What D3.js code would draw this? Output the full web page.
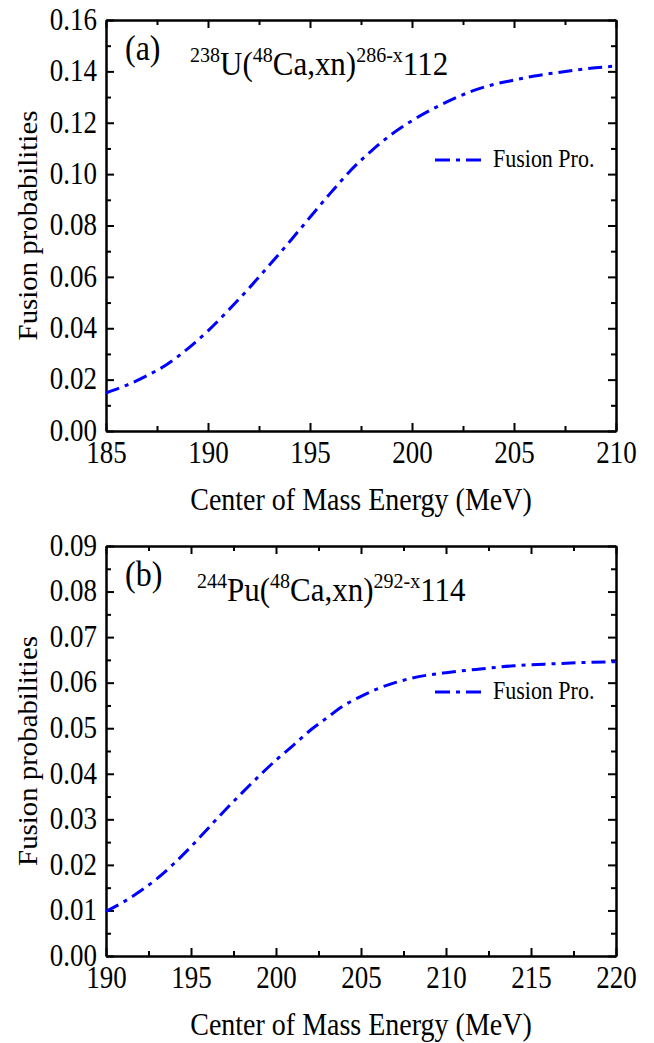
<!doctype html>
<html>
<head>
<meta charset="utf-8" />
<script src="https://cdn.jsdelivr.net/npm/d3@7"></script>
<style>
  body{margin:0;padding:0;background:#fff;}
  text{font-family:"Liberation Serif","Times New Roman",serif;fill:#000;}
</style>
</head>
<body>
<script>

// panel (a): 238U(48Ca,xn)286-x112
var energyA = [185,186,187,188,189,190,191,192,193,194,195,196,197,198,199,200,201,202,203,204,205,206,207,208,209,210];
var probA   = [0.0148,0.0178,0.0215,0.0260,0.0320,0.0390,0.0470,0.0555,0.0645,0.0737,0.0832,0.0926,0.1015,0.1090,0.1155,0.1208,0.1253,0.1292,0.1325,0.1349,0.1366,0.1382,0.1394,0.1405,0.1414,0.1421];

// panel (b): 244Pu(48Ca,xn)292-x114
var energyB = [190,191,192,193,194,195,196,197,198,199,200,201,202,203,204,205,206,207,208,209,210,212,214,216,218,220];
var probB   = [0.0098,0.0118,0.0142,0.0170,0.0203,0.0240,0.0280,0.0320,0.0358,0.0395,0.0430,0.0462,0.0495,0.0523,0.0550,0.0570,0.0587,0.0600,0.0610,0.0617,0.0622,0.0630,0.0637,0.0641,0.0644,0.0646];

var xTicksA = [185,190,195,200,205,210];
var yTicksA = [0,0.02,0.04,0.06,0.08,0.10,0.12,0.14,0.16];
var xTicksB = [190,195,200,205,210,215,220];
var yTicksB = [0,0.01,0.02,0.03,0.04,0.05,0.06,0.07,0.08,0.09];

var W = 654, H = 1043;
var left = 106, right = 616;
var SERIF = '"Liberation Serif","Times New Roman",serif';
var K = 1.15; // the original glyphs are a bit taller than wide
var svg = d3.select("body").append("svg").attr("width",W).attr("height",H);

// text placed with a small vertical stretch
function addText(g, x, y, size, k, txt){
  return g.append("text").attr("transform","translate("+x+","+y+") scale(1,"+k+")")
    .style("font-family",SERIF).attr("font-size",size+"px").text(txt);
}

function panel(cfg){
  var top = cfg.top, bottom = cfg.bottom;
  var x = d3.scaleLinear().domain(cfg.xDom).range([left,right]);
  var y = d3.scaleLinear().domain(cfg.yDom).range([bottom,top]);
  var g = svg.append("g");

  // minor tick positions (halfway between majors)
  var xMinor = [], yMinor = [];
  for(var i=0;i<cfg.xTicks.length-1;i++) xMinor.push((cfg.xTicks[i]+cfg.xTicks[i+1])/2);
  for(var j=0;j<cfg.yTicks.length-1;j++) yMinor.push((cfg.yTicks[j]+cfg.yTicks[j+1])/2);

  function styleAxis(sel){
    sel.select(".domain").attr("stroke","#000").attr("stroke-width",2);
    sel.selectAll(".tick line").attr("stroke","#000").attr("stroke-width",2);
    sel.selectAll(".tick text").attr("font-size","27px").style("font-family",SERIF).attr("fill","#000");
  }

  // bottom
  var bx = g.append("g").attr("transform","translate(0,"+bottom+")")
    .call(d3.axisBottom(x).tickValues(cfg.xTicks).tickSize(-8).tickSizeOuter(0).tickFormat(d3.format("d")))
    .call(styleAxis);
  bx.selectAll(".tick text").attr("y",32/K).attr("dy",0).attr("transform","scale(1,"+K+")");
  g.append("g").attr("transform","translate(0,"+bottom+")")
    .call(d3.axisBottom(x).tickValues(xMinor).tickSize(-5).tickSizeOuter(0).tickFormat(""))
    .call(styleAxis);
  // top
  g.append("g").attr("transform","translate(0,"+top+")")
    .call(d3.axisTop(x).tickValues(cfg.xTicks).tickSize(-8).tickSizeOuter(0).tickFormat(""))
    .call(styleAxis);
  g.append("g").attr("transform","translate(0,"+top+")")
    .call(d3.axisTop(x).tickValues(xMinor).tickSize(-5).tickSizeOuter(0).tickFormat(""))
    .call(styleAxis);
  // left
  var lx = g.append("g").attr("transform","translate("+left+",0)")
    .call(d3.axisLeft(y).tickValues(cfg.yTicks).tickSize(-8).tickSizeOuter(0).tickPadding(9).tickFormat(d3.format(".2f")))
    .call(styleAxis);
  lx.selectAll(".tick text").attr("y",0).attr("dy","0.3em").attr("transform","scale(1,"+K+")");
  g.append("g").attr("transform","translate("+left+",0)")
    .call(d3.axisLeft(y).tickValues(yMinor).tickSize(-5).tickSizeOuter(0).tickFormat(""))
    .call(styleAxis);
  // right
  g.append("g").attr("transform","translate("+right+",0)")
    .call(d3.axisRight(y).tickValues(cfg.yTicks).tickSize(-8).tickSizeOuter(0).tickFormat(""))
    .call(styleAxis);
  g.append("g").attr("transform","translate("+right+",0)")
    .call(d3.axisRight(y).tickValues(yMinor).tickSize(-5).tickSizeOuter(0).tickFormat(""))
    .call(styleAxis);

  // axis titles
  addText(g,(left+right)/2,bottom+79,28,1.1,"Center of Mass Energy (MeV)").attr("text-anchor","middle");
  g.append("text").attr("transform","translate(37,"+((top+bottom)/2)+") rotate(-90) scale(1.03,1)")
    .attr("text-anchor","middle").style("font-family",SERIF).attr("font-size","28px").text("Fusion probabilities");

  // curve
  var pts = cfg.xs.map(function(d,k){ return [d,cfg.ys[k]]; });
  var line = d3.line().x(function(d){ return x(d[0]); }).y(function(d){ return y(d[1]); }).curve(d3.curveMonotoneX);
  g.append("path").datum(pts).attr("d",line)
    .attr("fill","none").attr("stroke","#0000ff").attr("stroke-width",3)
    .attr("stroke-dasharray","14,6,4,6");

  // panel label and reaction
  addText(g,125,top+40,32,1.1,cfg.tag);
  var t = addText(g,cfg.fx,top+55,31,1.1,"");
  t.append("tspan").attr("font-size","20px").attr("dy",-12).text(cfg.target);
  t.append("tspan").attr("dy",12).text(cfg.targetEl+"(");
  t.append("tspan").attr("font-size","20px").attr("dy",-12).text("48");
  t.append("tspan").attr("dy",12).text("Ca,xn)");
  t.append("tspan").attr("font-size","20px").attr("dy",-12).text(cfg.cn);
  t.append("tspan").attr("dy",12).text(cfg.z);

  // legend
  var ly = top+cfg.legY;
  g.append("line").attr("x1",435).attr("x2",484).attr("y1",ly).attr("y2",ly)
    .attr("stroke","#0000ff").attr("stroke-width",3).attr("stroke-dasharray","15,6,4,6");
  addText(g,493,ly+7,22,1.1,"Fusion Pro.");
}

panel({top:20, bottom:431, xDom:[185,210], yDom:[0,0.16], xTicks:xTicksA, yTicks:yTicksA,
       xs:energyA, ys:probA, tag:"(a)", fx:190, target:"238", targetEl:"U", cn:"286-x", z:"112", legY:140});
panel({top:546, bottom:956, xDom:[190,220], yDom:[0,0.09], xTicks:xTicksB, yTicks:yTicksB,
       xs:energyB, ys:probB, tag:"(b)", fx:197, target:"244", targetEl:"Pu", cn:"292-x", z:"114", legY:146});

</script>
</body>
</html>
